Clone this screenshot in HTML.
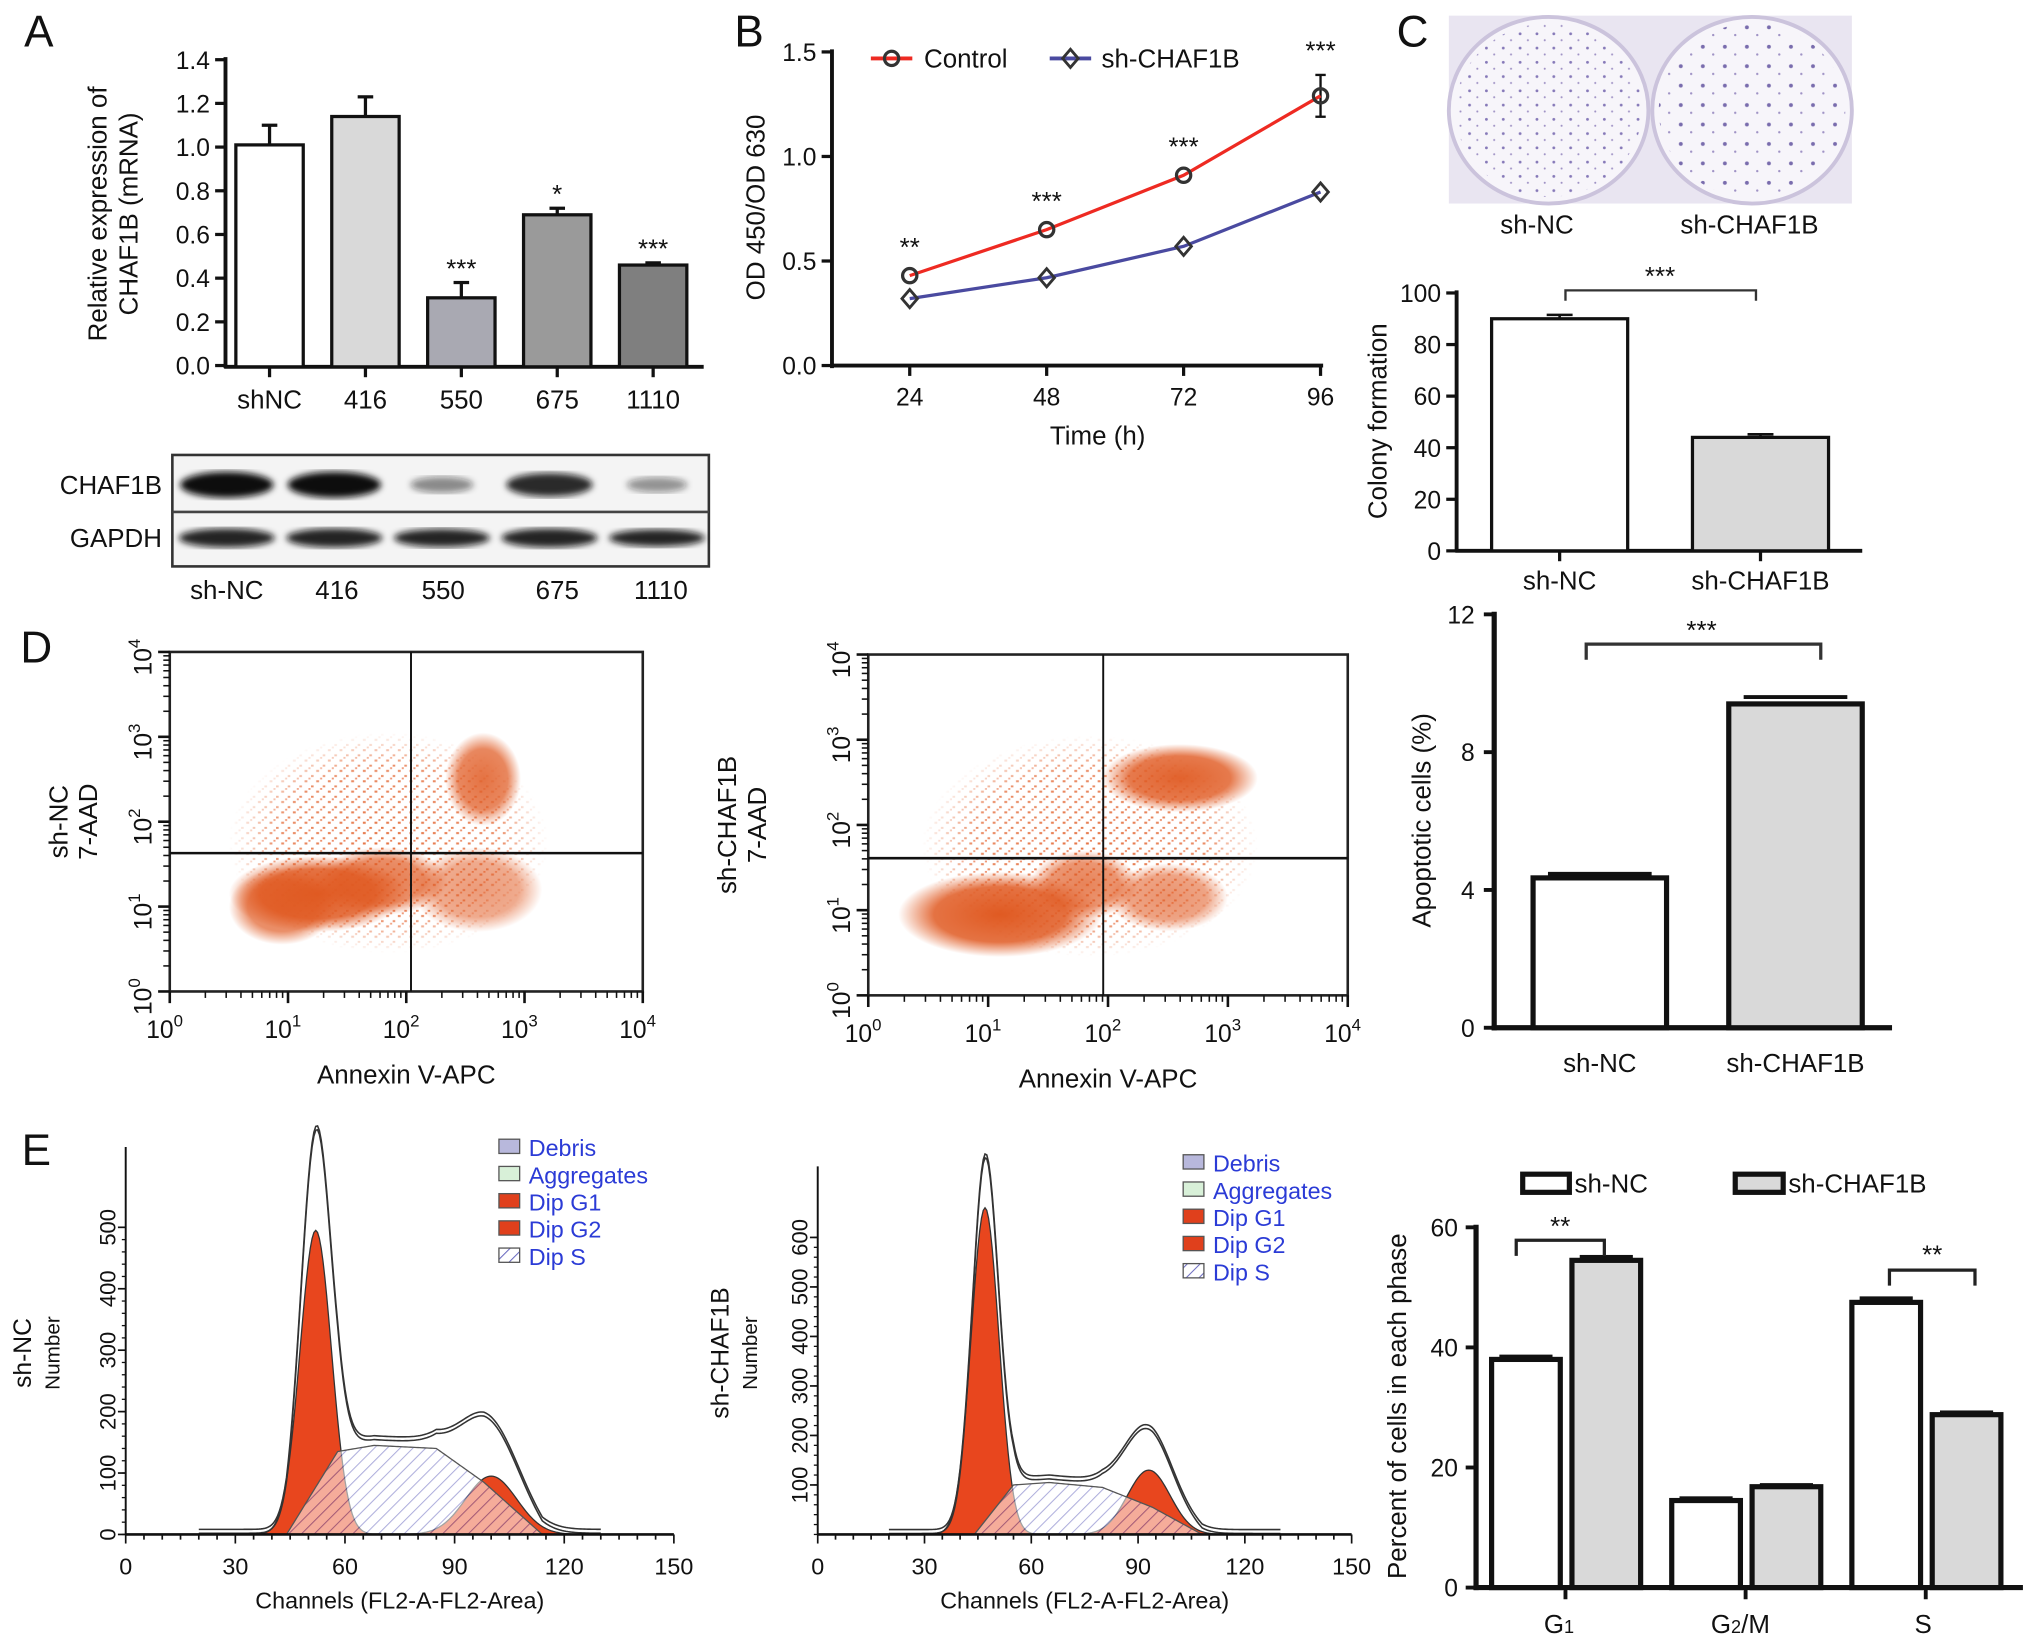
<!DOCTYPE html>
<html><head><meta charset="utf-8"><style>
html,body{margin:0;padding:0;background:#fff;}
svg{display:block;font-family:"Liberation Sans",Arial,sans-serif;}
</style></head><body>
<svg id="fig" xmlns="http://www.w3.org/2000/svg" width="2032" height="1646" viewBox="0 0 1568 1270">
<defs>
<radialGradient id="rg" cx="50%" cy="50%" r="50%"><stop offset="0%" stop-color="#e05a22" stop-opacity="1"/><stop offset="65%" stop-color="#e05a22" stop-opacity="0.85"/><stop offset="100%" stop-color="#e05a22" stop-opacity="0"/></radialGradient>
<pattern id="odots" width="9" height="8" patternUnits="userSpaceOnUse"><rect x="1" y="2" width="2.2" height="1.6" fill="#e05a22"/><rect x="6" y="6" width="2" height="1.5" fill="#e05a22"/><rect x="4" y="0" width="1.6" height="1.4" fill="#e86a3a"/></pattern>
<radialGradient id="fadeG" cx="50%" cy="50%" r="50%"><stop offset="0%" stop-color="#fff" stop-opacity="1"/><stop offset="70%" stop-color="#fff" stop-opacity="0.8"/><stop offset="100%" stop-color="#fff" stop-opacity="0"/></radialGradient>
<mask id="fadeMask" maskContentUnits="objectBoundingBox"><rect x="0" y="0" width="1" height="1" fill="url(#fadeG)"/></mask>
<pattern id="hatch" width="7" height="7" patternUnits="userSpaceOnUse" patternTransform="rotate(45)"><rect width="7" height="7" fill="#fff"/><line x1="0" y1="0" x2="0" y2="7" stroke="#6b6bc0" stroke-width="1.6"/></pattern>
<pattern id="dots" width="13" height="11" patternUnits="userSpaceOnUse"><circle cx="3" cy="4" r="1.1" fill="#6a5aa8"/><circle cx="9" cy="9" r="0.8" fill="#8a7ab8"/></pattern>
<pattern id="dots2" width="17" height="15" patternUnits="userSpaceOnUse"><circle cx="5" cy="6" r="1.5" fill="#5a4a9a"/><circle cx="13" cy="12" r="0.9" fill="#8a7ab8"/></pattern>
<filter id="blur2"><feGaussianBlur stdDeviation="2.5"/></filter>
</defs>
</svg>
<script>
// ---------- DATA ----------
const aCats=['shNC','416','550','675','1110'];
const aVals=[1.01,1.14,0.31,0.69,0.46];
const aErr=[0.09,0.09,0.07,0.03,0.01];
const aStars=['','','***','*','***'];
const aTicks=[0,0.2,0.4,0.6,0.8,1.0,1.2,1.4];
const aFills=['#ffffff','#d9d9d9','#a9a9b2','#9a9a9a','#7f7f7f'];
const blotLabels=['sh-NC','416','550','675','1110'];
const chafBand=[1.0,1.0,0.35,0.85,0.3];
const gapdhBand=[0.9,0.9,0.85,0.9,0.8];

const bTimes=[24,48,72,96];
const bControl=[0.43,0.65,0.91,1.29];
const bControlErr=[0.02,0.02,0.02,0.10];
const bSh=[0.32,0.42,0.57,0.83];
const bStars=['**','***','***','***'];
const bTicks=[0.0,0.5,1.0,1.5];

const cCats=['sh-NC','sh-CHAF1B'];
const cVals=[90,44];
const cErr=[1.5,1.2];
const cTicks=[0,20,40,60,80,100];

const dCats=['sh-NC','sh-CHAF1B'];
const dVals=[4.35,9.4];
const dErr=[0.12,0.2];
const dTicks=[0,4,8,12];

// flow clusters: [logX, logY, spreadX (decades), spreadY, density]
const flow1X=[1.85,1.25,2.65,2.6,0.95,1.8];
const flow1Y=[1.75,1.15,2.5,1.2,1.0,1.3];
const flow1SX=[1.35,0.75,0.32,0.55,0.45,0.55];
const flow1SY=[1.3,0.45,0.55,0.5,0.45,0.4];
const flow1D=[0.25,1.0,0.85,0.6,0.8,0.8];
const flow2X=[1.85,1.1,2.6,2.5,1.8];
const flow2Y=[1.75,0.95,2.55,1.15,1.3];
const flow2SX=[1.4,0.85,0.65,0.5,0.45];
const flow2SY=[1.3,0.5,0.4,0.4,0.4];
const flow2D=[0.25,1.0,0.95,0.65,0.75];
const flowGate1=[2.04,1.63];
const flowGate2=[1.96,1.61];

// histogram components [G1, G2]: mean channel, sd, height
const e1Mean=[52,100]; const e1Sd=[4.3,7]; const e1H=[495,95];
const e1EnvH=[575,105];
const e1SCh=[44,58,68,85,98,114]; const e1SVal=[0,135,145,140,85,0];
const e1Ticks=[0,100,200,300,400,500];
const e2Mean=[47,93]; const e2Sd=[3.9,6]; const e2H=[660,130];
const e2EnvH=[730,150];
const e2SCh=[44,55,65,80,94,108]; const e2SVal=[0,100,105,95,55,0];
const e2Ticks=[100,200,300,400,500,600];
const legendNames=['Debris','Aggregates','Dip G1','Dip G2','Dip S'];
const legendFills=['#b8b8dc','#d8f0d8','#e0401c','#e0401c','url(#hatch)'];

const eCats=['G1','G2/M','S'];
const eNC=[38,14.5,47.5];
const eSh=[54.5,16.8,28.8];
const eErrNC=[0.8,0.7,1.0];
const eErrSh=[0.9,0.6,0.7];
const eTicks=[0,20,40,60];

// ---------- HELPERS ----------
const NS='http://www.w3.org/2000/svg';
const svg=document.getElementById('fig');
function mk(tag,a,p){const e=document.createElementNS(NS,tag);for(const k in a)e.setAttribute(k,a[k]);(p||svg).appendChild(e);return e;}
function tx(x,y,s,a,p){const t=mk('text',Object.assign({x:x,y:y,'font-size':20,'text-anchor':'middle',fill:'#111'},a||{}),p);t.textContent=s;return t;}
function grp(name){const g=mk('g',{});return g;}
function line(x1,y1,x2,y2,w,p,c){return mk('line',{x1:x1,y1:y1,x2:x2,y2:y2,stroke:c||'#111','stroke-width':w},p);}

[['A',30,36],['B',578,36],['C',1090,36],['D',28,511],['E',28,899]].forEach(function(l){
  const t=tx(l[1],l[2],l[0],{'font-size':34});
  
  
});

// ---------- PANEL A ----------
(function(){
  const g=grp('panel-a-bar-chart');
  const y=v=>282-v/1.4*236;
  const bx=i=>182+i*74, bw=52;
  line(174,y(1.4)-2,174,284,3,g); line(173,283,543,283,3,g);
  aTicks.forEach(function(t){line(166,y(t),174,y(t),2.5,g);const l=tx(162,y(t)+7,t.toFixed(1),{'text-anchor':'end','font-size':19},g);});
  aVals.forEach(function(v,i){
    const r=mk('rect',{x:bx(i),y:y(v),width:bw,height:283-y(v),fill:aFills[i],stroke:'#111','stroke-width':2.5},g);
    
    
    const cx=bx(i)+bw/2;
    line(cx,y(v),cx,y(v+aErr[i]),2.5,g);line(cx-6,y(v+aErr[i]),cx+6,y(v+aErr[i]),2.5,g);
    line(cx,283,cx,291,2.5,g);
    const l=tx(cx,315,aCats[i],{},g);
    if(aStars[i]){const s=tx(cx,y(v+aErr[i])-4,aStars[i],{'font-size':20},g);}
  });
  const t1=tx(0,0,'Relative expression of',{transform:'translate(82,165) rotate(-90)'},g);
  
  tx(0,0,'CHAF1B (mRNA)',{transform:'translate(106,165) rotate(-90)'},g);
  const wb=grp('western-blot');
  mk('rect',{x:133,y:351,width:414,height:86,fill:'#f4f4f4',stroke:'#333','stroke-width':2},wb);
  line(133,395,547,395,2,wb,'#444');
  chafBand.forEach(function(d,i){
    const cx=175+i*83;
    const b=mk('ellipse',{cx:cx,cy:374,rx:36*(0.5+0.5*d),ry:10*(0.4+0.6*d),fill:'#111','fill-opacity':0.2+0.8*d,filter:'url(#blur2)'},wb);
    
    const c=mk('ellipse',{cx:cx,cy:415,rx:37,ry:7*gapdhBand[i]+1,fill:'#111','fill-opacity':0.9,filter:'url(#blur2)'},wb);
    
    tx([175,260,342,430,510][i],462,blotLabels[i],{},wb);
  });
  tx(125,381,'CHAF1B',{'text-anchor':'end'},wb);
  tx(125,422,'GAPDH',{'text-anchor':'end'},wb);
})();

// ---------- PANEL B ----------
(function(){
  const g=grp('panel-b-line-chart');
  const x=t=>702+(t-24)/72*317;
  const y=v=>282-v/1.5*242;
  line(642,y(1.5)-2,642,284,3,g); line(641,282,1021,282,3,g);
  bTicks.forEach(function(t){line(634,y(t),642,y(t),2.5,g);tx(630,y(t)+7,t.toFixed(1),{'text-anchor':'end','font-size':19},g);});
  bTimes.forEach(function(t){line(x(t),282,x(t),290,2.5,g);tx(x(t),313,String(t),{'font-size':19},g);});
  function series(vals,color,name,marker){
    const p=mk('polyline',{points:vals.map((v,i)=>x(bTimes[i])+','+y(v)).join(' '),fill:'none',stroke:color,'stroke-width':2.5},g);
    
    vals.forEach(function(v,i){
      let m;
      if(marker==='c') m=mk('circle',{cx:x(bTimes[i]),cy:y(v),r:5.5,fill:'none',stroke:'#333','stroke-width':2.5},g);
      else m=mk('path',{d:'M'+x(bTimes[i])+' '+(y(v)-7)+'l6 7l-6 7l-6 -7z',fill:'none',stroke:'#333','stroke-width':2.2},g);
      
    });
  }
  bControl.forEach(function(v,i){const e=bControlErr[i];if(e>0.03){const cx=x(bTimes[i]);line(cx,y(v+e),cx,y(v-e),1.8,g);line(cx-4,y(v+e),cx+4,y(v+e),1.8,g);line(cx-4,y(v-e),cx+4,y(v-e),1.8,g);}});
  series(bSh,'#4a4aa0','sh-chaf1b','d');
  series(bControl,'#ee2a22','control','c');
  bStars.forEach(function(s,i){const st=tx(x(bTimes[i]),y(bControl[i]+bControlErr[i])-12,s,{'font-size':20},g);});
  const lg=grp('panel-b-legend');
  line(672,45,704,45,3,lg,'#ee2a22');mk('circle',{cx:688,cy:45,r:5.5,fill:'none',stroke:'#333','stroke-width':2.5},lg);
  tx(713,52,'Control',{'text-anchor':'start'},lg);
  line(810,45,842,45,3,lg,'#4a4aa0');mk('path',{d:'M826 38l6 7l-6 7l-6 -7z',fill:'none',stroke:'#333','stroke-width':2.2},lg);
  tx(850,52,'sh-CHAF1B',{'text-anchor':'start'},lg);
  tx(847,343,'Time (h)',{},g);
  tx(0,0,'OD 450/OD 630',{transform:'translate(590,160) rotate(-90)'},g);
})();

// ---------- PANEL C ----------
(function(){
  const im=grp('colony-plate-image');
  mk('rect',{x:1118,y:12,width:311,height:145,fill:'#e9e5f1'},im);
  [[1195,85],[1352,85]].forEach(function(c,i){
    mk('ellipse',{cx:c[0],cy:c[1],rx:77,ry:72,fill:'#f7f5fa',stroke:'#cbc3dc','stroke-width':3},im);
    mk('ellipse',{cx:c[0],cy:c[1],rx:72,ry:67,fill:i?'url(#dots2)':'url(#dots)','fill-opacity':0.8},im);
  });
  tx(1186,180,'sh-NC',{},im);tx(1350,180,'sh-CHAF1B',{},im);
  const g=grp('panel-c-bar-chart');
  const y=v=>425-v/100*199;
  const bx=[1151,1306],bw=105;
  line(1124,y(100)-2,1124,426,3,g);line(1123,425,1437,425,3,g);
  cTicks.forEach(function(t){line(1116,y(t),1124,y(t),2.5,g);tx(1112,y(t)+7,String(t),{'text-anchor':'end','font-size':19},g);});
  cVals.forEach(function(v,i){
    const r=mk('rect',{x:bx[i],y:y(v),width:bw,height:425-y(v),fill:i?'#d9d9d9':'#fff',stroke:'#111','stroke-width':2.5},g);
    
    const cx=bx[i]+bw/2;line(cx-10,y(v+cErr[i]),cx+10,y(v+cErr[i]),2,g);line(cx,y(v),cx,y(v+cErr[i]),2,g);
    line(cx,425,cx,433,2.5,g);tx(cx,455,cCats[i],{},g);
  });
  mk('path',{d:'M1208 232V224H1355V232',fill:'none',stroke:'#333','stroke-width':1.8},g);
  tx(1281,220,'***',{},g);
  tx(0,0,'Colony formation',{transform:'translate(1070,325) rotate(-90)'},g);
})();

// ---------- PANEL D FLOW ----------
function flowPlot(name,x0,x1,yTop,yBot,cx,cy,sx,sy,dens,gate,labelA,lx){
  const g=grp(name);
  const dx=(x1-x0)/4, dy=(yBot-yTop)/4;
  const X=l=>x0+l*dx, Y=l=>yBot-l*dy;
  const clip=mk('clipPath',{id:name+'-clip'},g);mk('rect',{x:x0,y:yTop,width:x1-x0,height:yBot-yTop},clip);
  const cg=mk('g',{'clip-path':'url(#'+name+'-clip)'},g);
  cx.forEach(function(v,i){
    const sparse=dens[i]<0.3;
    const e=mk('ellipse',{cx:X(v),cy:Y(cy[i]),rx:sx[i]*dx,ry:sy[i]*dy,fill:sparse?'url(#odots)':'url(#rg)','fill-opacity':sparse?0.85:dens[i],mask:sparse?'url(#fadeMask)':''},cg);
    
    
  });
  mk('rect',{x:x0,y:yTop,width:x1-x0,height:yBot-yTop,fill:'none',stroke:'#222','stroke-width':2},g);
  const vq=line(X(gate[0]),yTop,X(gate[0]),yBot,1.5,g);
  const hq=line(x0,Y(gate[1]),x1,Y(gate[1]),2,g);
  for(let d=0;d<4;d++){for(let m=2;m<10;m++){const lv=d+Math.log10(m);line(X(lv),yBot,X(lv),yBot+5,1.2,g);line(x0-5,Y(lv),x0,Y(lv),1.2,g);}}
  for(let d=0;d<=4;d++){
    line(X(d),yBot,X(d),yBot+9,2,g);line(x0-9,Y(d),x0,Y(d),2,g);
    const t=tx(X(d)-4,yBot+36,'10',{'font-size':19},g);const s=mk('tspan',{dy:-9,'font-size':13},t);s.textContent=String(d);
    const t2=tx(0,0,'10',{'font-size':19,transform:'translate('+(x0-14)+','+(Y(d)+4)+') rotate(-90)'},g);const s2=mk('tspan',{dy:-9,'font-size':13},t2);s2.textContent=String(d);
  }
  tx((x0+x1)/2,yBot+71,'Annexin V-APC',{},g);
  tx(0,0,labelA,{transform:'translate('+lx+','+((yTop+yBot)/2)+') rotate(-90)'},g);
  tx(0,0,'7-AAD',{transform:'translate('+(lx+23)+','+((yTop+yBot)/2)+') rotate(-90)'},g);
}
flowPlot('flow-plot-sh-nc',131,496,503,765,flow1X,flow1Y,flow1SX,flow1SY,flow1D,flowGate1,'sh-NC',52);
flowPlot('flow-plot-sh-chaf1b',670,1040,505,768,flow2X,flow2Y,flow2SX,flow2SY,flow2D,flowGate2,'sh-CHAF1B',568);

// ---------- PANEL D BAR ----------
(function(){
  const g=grp('panel-d-apoptosis-bar-chart');
  const y=v=>793-v/12*319;
  const bx=[1183,1334],bw=103;
  line(1153,y(12)-2,1153,795,4,g);line(1151,793,1460,793,4,g);
  dTicks.forEach(function(t){line(1145,y(t),1153,y(t),3,g);tx(1138,y(t)+7,String(t),{'text-anchor':'end','font-size':19},g);});
  dVals.forEach(function(v,i){
    const r=mk('rect',{x:bx[i],y:y(v),width:bw,height:793-y(v),fill:i?'#d9d9d9':'#fff',stroke:'#111','stroke-width':4},g);
    
    const cx=bx[i]+bw/2;line(cx-40,y(v+dErr[i]),cx+40,y(v+dErr[i]),3,g);
    tx(cx,827,dCats[i],{},g);
  });
  mk('path',{d:'M1224 509V497H1405V509',fill:'none',stroke:'#333','stroke-width':2.5},g);
  tx(1313,493,'***',{},g);
  tx(0,0,'Apoptotic cells (%)',{transform:'translate(1104,633) rotate(-90)'},g);
})();

// ---------- PANEL E HISTOGRAMS ----------
function gauss(c,m,s,h){return h*Math.exp(-0.5*Math.pow((c-m)/s,2));}
function sAt(c,ch,vals){if(c<=ch[0]||c>=ch[ch.length-1])return 0;for(let i=1;i<ch.length;i++){if(c<=ch[i]){const f=(c-ch[i-1])/(ch[i]-ch[i-1]);return vals[i-1]+f*(vals[i]-vals[i-1]);}}return 0;}
function histPlot(name,x0,x150,base,pxPerUnit,yTopAxis,means,sds,hs,envH,sCh,sVal,ticks,lblA,lx,legX,legY){
  const g=grp(name);
  const X=c=>x0+c/150*(x150-x0), Y=v=>base-v*pxPerUnit;
  const chans=[];for(let c=20;c<=130;c+=0.5)chans.push(c);
  means.forEach(function(m,i){
    const p=mk('polygon',{points:[X(m-5*sds[i])+','+base].concat(chans.filter(c=>Math.abs(c-m)<5*sds[i]).map(c=>X(c)+','+Y(gauss(c,m,sds[i],hs[i])))).concat([X(m+5*sds[i])+','+base]).join(' '),fill:'#e8461e',stroke:'#333','stroke-width':1},g);
    
    
  });
  const sp=mk('polygon',{points:chans.map(c=>X(c)+','+Y(sAt(c,sCh,sVal))).join(' '),fill:'url(#hatch)','fill-opacity':0.55,stroke:'#555','stroke-width':1},g);
  
  
  [0,1].forEach(function(o){
    const env=mk('polyline',{points:chans.map(c=>X(c)+','+(Y(gauss(c,means[0],sds[0]*0.95,envH[0])+gauss(c,means[1],sds[1]*1.1,envH[1])+sAt(c,sCh,sVal)*1.05+2)-o*3)).join(' '),fill:'none',stroke:'#333','stroke-width':1.2},g);
    
    
  });
  line(x0,base,x150,base,2,g);line(x0,base,x0,yTopAxis,1.5,g);
  for(let c=0;c<=150;c+=5)line(X(c),base,X(c),base+(c%30?4:7),1.3,g);
  for(let c=0;c<=150;c+=30)tx(X(c),base+31,String(c),{'font-size':18},g);
  ticks.forEach(function(t){line(x0-6,Y(t),x0,Y(t),1.3,g);tx(0,0,String(t),{'font-size':17,transform:'translate('+(x0-8)+','+Y(t)+') rotate(-90)'},g);});
  for(let v=0;v<=ticks[ticks.length-1];v+=20)line(x0-3,Y(v),x0,Y(v),1,g);
  tx((x0+x150)/2,base+57,'Channels (FL2-A-FL2-Area)',{'font-size':18},g);
  tx(0,0,lblA,{'font-size':19,transform:'translate('+lx+','+(base-140)+') rotate(-90)'},g);
  tx(0,0,'Number',{'font-size':16,transform:'translate('+(lx+22)+','+(base-140)+') rotate(-90)'},g);
  const lg=grp(name+'-legend');
  legendNames.forEach(function(n,i){
    const r=mk('rect',{x:legX,y:legY+i*21-7,width:16,height:11,fill:legendFills[i],stroke:'#555','stroke-width':1},lg);
    
    
    const t=tx(legX+23,legY+i*21+6,n,{'text-anchor':'start','font-size':18,fill:'#2b3bd6'},lg);
    
    
  });
}
histPlot('histogram-sh-nc',97,520,1184,0.474,885,e1Mean,e1Sd,e1H,e1EnvH,e1SCh,e1SVal,e1Ticks,'sh-NC',24,385,886);
histPlot('histogram-sh-chaf1b',631,1043,1184,0.382,900,e2Mean,e2Sd,e2H,e2EnvH,e2SCh,e2SVal,e2Ticks,'sh-CHAF1B',562,913,898);

// ---------- PANEL E BAR ----------
(function(){
  const g=grp('panel-e-cell-cycle-bar-chart');
  const y=v=>1225-v/60*278;
  const gx=i=>1151+i*139, bw=53;
  line(1139,y(60)-2,1139,1227,4,g);line(1137,1225,1561,1225,4,g);
  eTicks.forEach(function(t){line(1131,y(t),1139,y(t),3,g);tx(1125,y(t)+7,String(t),{'text-anchor':'end','font-size':19},g);});
  eCats.forEach(function(c,i){
    [[eNC,eErrNC,'#fff','sh-nc'],[eSh,eErrSh,'#d9d9d9','sh-chaf1b']].forEach(function(s,j){
      const v=s[0][i],bx=gx(i)+j*62;
      const r=mk('rect',{x:bx,y:y(v),width:bw,height:1225-y(v),fill:s[2],stroke:'#111','stroke-width':4},g);
      
      
      mk('rect',{x:bx+6,y:y(v+s[1][i]),width:bw-12,height:y(v)-y(v+s[1][i])+1,fill:'#111'},g);
    });
    line(gx(i)+57,1225,gx(i)+57,1234,3,g);
  });
  const l1=tx(1203,1260,'G',{},g);const s1=mk('tspan',{'font-size':14},l1);s1.textContent='1';
  const l2=tx(1343,1260,'G',{},g);const s2=mk('tspan',{'font-size':14},l2);s2.textContent='2';const s3=mk('tspan',{},l2);s3.textContent='/M';
  tx(1484,1260,'S',{},g);
  mk('path',{d:'M1170 969V957H1238V969',fill:'none',stroke:'#222','stroke-width':2.5},g);tx(1204,953,'**',{},g);
  mk('path',{d:'M1458 992V980H1524V992',fill:'none',stroke:'#222','stroke-width':2.5},g);tx(1491,975,'**',{},g);
  tx(0,0,'Percent of cells in each phase',{transform:'translate(1085,1085) rotate(-90)'},g);
  const lg=grp('panel-e-legend');
  mk('rect',{x:1175,y:906,width:36,height:14,fill:'#fff',stroke:'#111','stroke-width':4},lg);
  tx(1215,920,'sh-NC',{'text-anchor':'start'},lg);
  mk('rect',{x:1339,y:906,width:37,height:14,fill:'#d9d9d9',stroke:'#111','stroke-width':4},lg);
  tx(1380,920,'sh-CHAF1B',{'text-anchor':'start'},lg);
})();
</script>
</body></html>
